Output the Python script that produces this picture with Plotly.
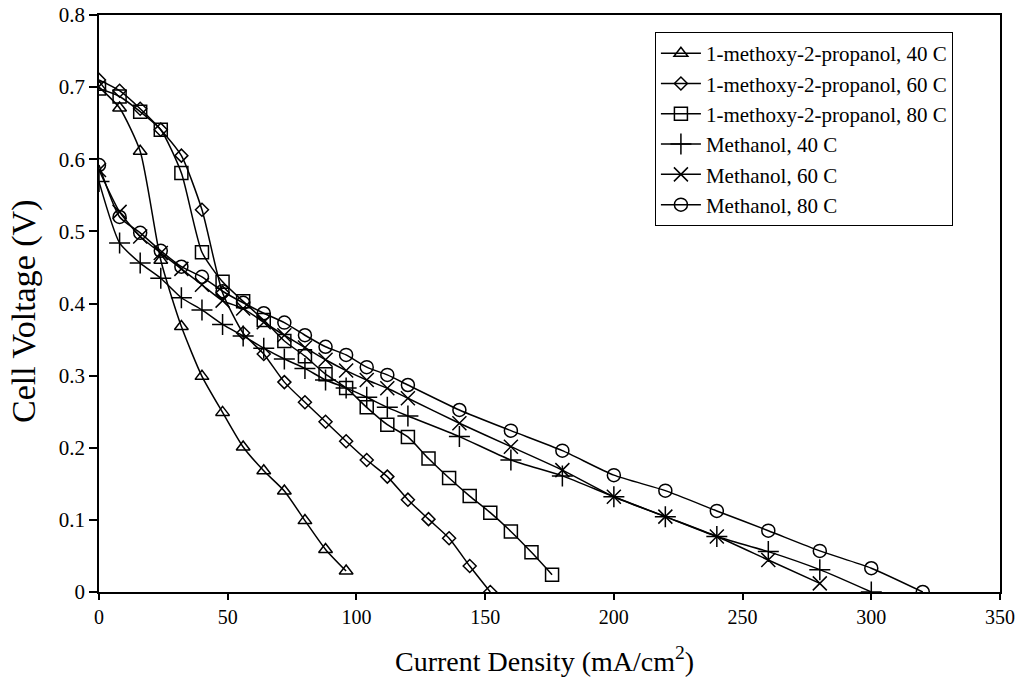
import plotly.graph_objects as go

x_mp40 = [0, 8, 16, 24, 32, 40, 48, 56, 64, 72, 80, 88, 96]
y_mp40 = [0.70, 0.671, 0.611, 0.46, 0.368, 0.299, 0.249, 0.201, 0.168, 0.140, 0.099, 0.059, 0.029]

x_mp60 = [0, 8, 16, 24, 32, 40, 48, 56, 64, 72, 80, 88, 96, 104, 112, 120, 128, 136, 144, 152]
y_mp60 = [0.71, 0.695, 0.670, 0.641, 0.605, 0.530, 0.415, 0.359, 0.330, 0.291, 0.263, 0.236, 0.209,
          0.183, 0.160, 0.128, 0.101, 0.0745, 0.036, 0.0]

x_mp80 = [0, 8, 16, 24, 32, 40, 48, 56, 64, 72, 80, 88, 96, 104, 112, 120, 128, 136, 144, 152,
          160, 168, 176]
y_mp80 = [0.698, 0.687, 0.666, 0.641, 0.581, 0.471, 0.430, 0.403, 0.377, 0.348, 0.327, 0.302,
          0.283, 0.256, 0.232, 0.215, 0.185, 0.158, 0.133, 0.110, 0.084, 0.055, 0.024]

x_me40 = [0, 8, 16, 24, 32, 40, 48, 56, 64, 72, 80, 88, 96, 104, 112, 120, 140, 160, 180, 200,
          220, 240, 260, 280, 300]
y_me40 = [0.569, 0.484, 0.456, 0.435, 0.408, 0.391, 0.371, 0.355, 0.338, 0.323, 0.310, 0.294,
          0.283, 0.270, 0.256, 0.244, 0.2155, 0.183, 0.161, 0.132, 0.1045, 0.077, 0.056, 0.031, 0.0]

x_me60 = [0, 8, 16, 24, 32, 40, 48, 56, 64, 72, 80, 88, 96, 104, 112, 120, 140, 160, 180, 200,
          220, 240, 260, 280]
y_me60 = [0.585, 0.527, 0.493, 0.470, 0.448, 0.426, 0.404, 0.393, 0.374, 0.356, 0.339, 0.322,
          0.307, 0.294, 0.2825, 0.2686, 0.234, 0.2015, 0.169, 0.132, 0.1045, 0.077, 0.0444, 0.012]

x_me80 = [0, 8, 16, 24, 32, 40, 48, 56, 64, 72, 80, 88, 96, 104, 112, 120, 140, 160, 180, 200,
          220, 240, 260, 280, 300, 320]
y_me80 = [0.592, 0.520, 0.498, 0.473, 0.451, 0.437, 0.417, 0.401, 0.3865, 0.3735, 0.356, 0.340,
          0.3287, 0.3117, 0.301, 0.287, 0.2524, 0.2237, 0.196, 0.162, 0.1405, 0.1124, 0.085,
          0.057, 0.033, 0.0]

names = ["1-methoxy-2-propanol, 40 C", "1-methoxy-2-propanol, 60 C", "1-methoxy-2-propanol, 80 C",
         "Methanol, 40 C", "Methanol, 60 C", "Methanol, 80 C"]
xs = [x_mp40, x_mp60, x_mp80, x_me40, x_me60, x_me80]
ys = [y_mp40, y_mp60, y_mp80, y_me40, y_me60, y_me80]
symbols = ["triangle-up-open", "diamond-open", "square-open", "cross-thin-open", "x-thin-open", "circle-open"]
sizes = [12, 10, 13, 15, 14, 13]

x_title = "Current Density (mA/cm<sup>2</sup>)"
y_title = "Cell Voltage (V)"

fig = go.Figure()
for i in range(6):
    fig.add_trace(go.Scatter(
        x=xs[i], y=ys[i], name=names[i], mode="lines+markers",
        line=dict(color="black", width=1.5, shape="spline", smoothing=0.6),
        marker=dict(symbol=symbols[i], size=sizes[i], color="black",
                    line=dict(color="black", width=1.5)),
        legendgroup=f"g{i}",
    ))

font_family = "Liberation Serif, Times New Roman, serif"
fig.update_layout(
    width=1016, height=678,
    margin=dict(l=99, r=16, t=15, b=86),
    paper_bgcolor="white", plot_bgcolor="white",
    font=dict(family=font_family, color="black", size=20),
    showlegend=True,
    legend=dict(x=0.617, y=0.9705, xanchor="left", yanchor="top",
                bordercolor="black", borderwidth=1, bgcolor="white",
                font=dict(family=font_family, size=21, color="black"),
                tracegroupgap=0, itemwidth=40),
    xaxis=dict(range=[0, 350], tickmode="linear", tick0=0, dtick=50, automargin=False,
               showgrid=False, zeroline=False, showline=True, linecolor="black", linewidth=1.5,
               mirror=True, ticks="outside", ticklen=6, tickcolor="black", tickwidth=1.5,
               tickfont=dict(size=20)),
    yaxis=dict(range=[0, 0.8], tickmode="linear", tick0=0, dtick=0.1, automargin=False,
               showgrid=False, zeroline=False, showline=True, linecolor="black", linewidth=1.5,
               mirror=True, ticks="outside", ticklen=8, tickcolor="black", tickwidth=1.5,
               tickfont=dict(size=21)),
    annotations=[
        dict(text=x_title, xref="paper", yref="paper", x=0.4945, y=-0.117,
             xanchor="center", yanchor="middle", showarrow=False,
             font=dict(family=font_family, size=28, color="black")),
        dict(text=y_title, xref="paper", yref="paper", x=-0.0832, y=0.487,
             xanchor="center", yanchor="middle", showarrow=False, textangle=-90,
             font=dict(family=font_family, size=34, color="black")),
    ],
)
fig.write_html("out.html")
